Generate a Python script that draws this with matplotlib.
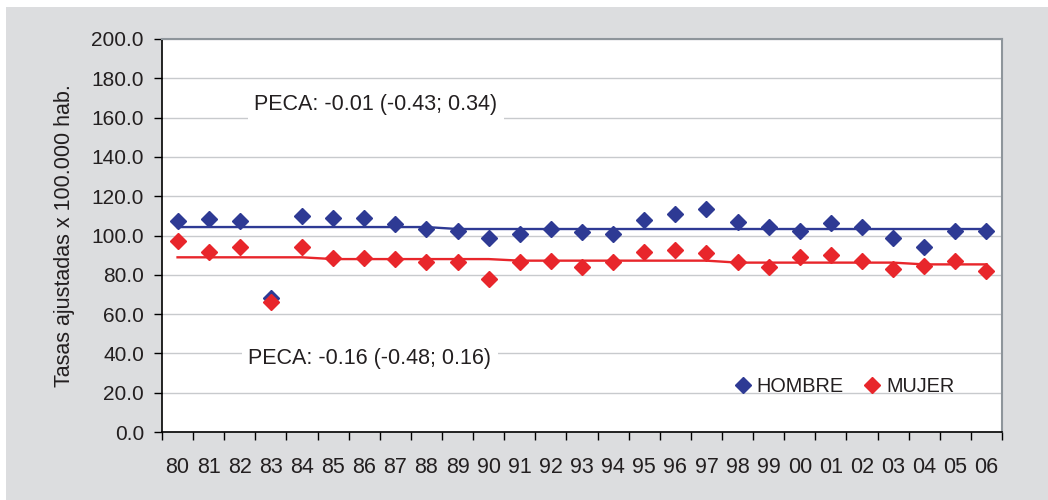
import matplotlib
matplotlib.use("Agg")
import matplotlib.pyplot as plt
from matplotlib.patches import Rectangle
from matplotlib.lines import Line2D

years = ["80","81","82","83","84","85","86","87","88","89","90","91","92","93",
         "94","95","96","97","98","99","00","01","02","03","04","05","06"]
hombre = [107.4,108.4,107.4,68.2,109.9,108.9,108.9,105.9,103.3,102.3,98.6,100.8,103.2,101.6,
          100.8,107.9,110.8,113.3,107.0,104.3,102.4,106.2,104.3,98.7,94.3,102.4,102.3]
mujer = [97.2,91.8,94.3,66.3,94.3,88.7,88.7,88.0,86.4,86.4,78.0,86.4,87.2,84.1,
         86.4,91.8,92.6,90.9,86.4,84.1,88.9,89.9,87.2,82.8,84.5,87.2,81.8]
trend_h = [104.3]*9 + [103.3]*18
trend_m = [88.9]*5 + [88.0]*6 + [87.2]*7 + [86.2]*6 + [85.3]*3
peca_h = "PECA: -0.01 (-0.43; 0.34)"
peca_m = "PECA: -0.16 (-0.48; 0.16)"
ylabel = "Tasas ajustadas x 100.000 hab."

plt.rcParams['font.family'] = ['Liberation Sans', 'DejaVu Sans']

BLUE = "#2e3a94"
RED = "#e8262b"
TXT = "#231f20"

fig = plt.figure(figsize=(10.48, 5.0), dpi=100, facecolor="white")
fig.patches.append(Rectangle((6/1048, 0), 1 - 6/1048, 1 - 7/500, transform=fig.transFigure,
                             facecolor="#dcdddf", edgecolor="none", zorder=-10))
ax = fig.add_axes([162/1048, 1 - 432/500, 840/1048, 393/500])
ax.set_facecolor("white")

x = list(range(len(years)))
ax.plot(x, trend_h, color=BLUE, lw=1.7, zorder=3)
ax.plot(x, trend_m, color=RED, lw=1.7, zorder=3)
ax.plot(x, hombre, ls="none", marker="D", ms=8.5, color=BLUE, zorder=4)
ax.plot(x, mujer, ls="none", marker="D", ms=8.5, color=RED, zorder=5)

ax.set_xlim(-0.5, len(years) - 0.5)
ax.set_ylim(0, 200)
ax.set_yticks(range(0, 201, 20))
ax.set_yticklabels([f"{v:.1f}" for v in range(0, 201, 20)], fontsize=15, color=TXT)
ax.set_xticks([i - 0.5 for i in range(len(years) + 1)])
ax.set_xticklabels([])
ax.set_xticks(x, minor=True)
ax.set_xticklabels(years, minor=True, fontsize=15.5, color=TXT)
ax.tick_params(axis="x", which="minor", length=0, pad=18)
ax.tick_params(axis="x", which="major", length=6, width=1, color="black", direction="out")
ax.tick_params(axis="y", length=6, width=1, color="black", direction="out", pad=7)
ax.grid(axis="y", color="#c8cacd", lw=1.0, zorder=0)
ax.set_axisbelow(True)
for s in ["left", "bottom"]:
    ax.spines[s].set_color("black")
    ax.spines[s].set_linewidth(1.2)
for s in ["top", "right"]:
    ax.spines[s].set_color("#8e959b")
    ax.spines[s].set_linewidth(1.5)

ax.set_ylabel(ylabel, fontsize=15.5, color=TXT, labelpad=12)

bbox = dict(facecolor="white", edgecolor="none", pad=5)
ax.text(2.47, 166.5, peca_h, fontsize=15.5, color=TXT,
        va="center", ha="left", bbox=bbox, zorder=2)
ax.text(2.28, 37.5, peca_m, fontsize=15.5, color=TXT,
        va="center", ha="left", bbox=bbox, zorder=2)

handles = [Line2D([], [], ls="none", marker="D", ms=8, color=BLUE),
           Line2D([], [], ls="none", marker="D", ms=8, color=RED)]
leg = ax.legend(handles, ["HOMBRE", "MUJER"], loc="upper left", bbox_to_anchor=(0.658, 0.185),
                ncol=2, frameon=False, handlelength=1.0, handletextpad=0.2, columnspacing=0.95,
                prop={'size': 14.3})
for t in leg.get_texts():
    t.set_color(TXT)

fig.savefig("out.png", dpi=100, facecolor=fig.get_facecolor())
